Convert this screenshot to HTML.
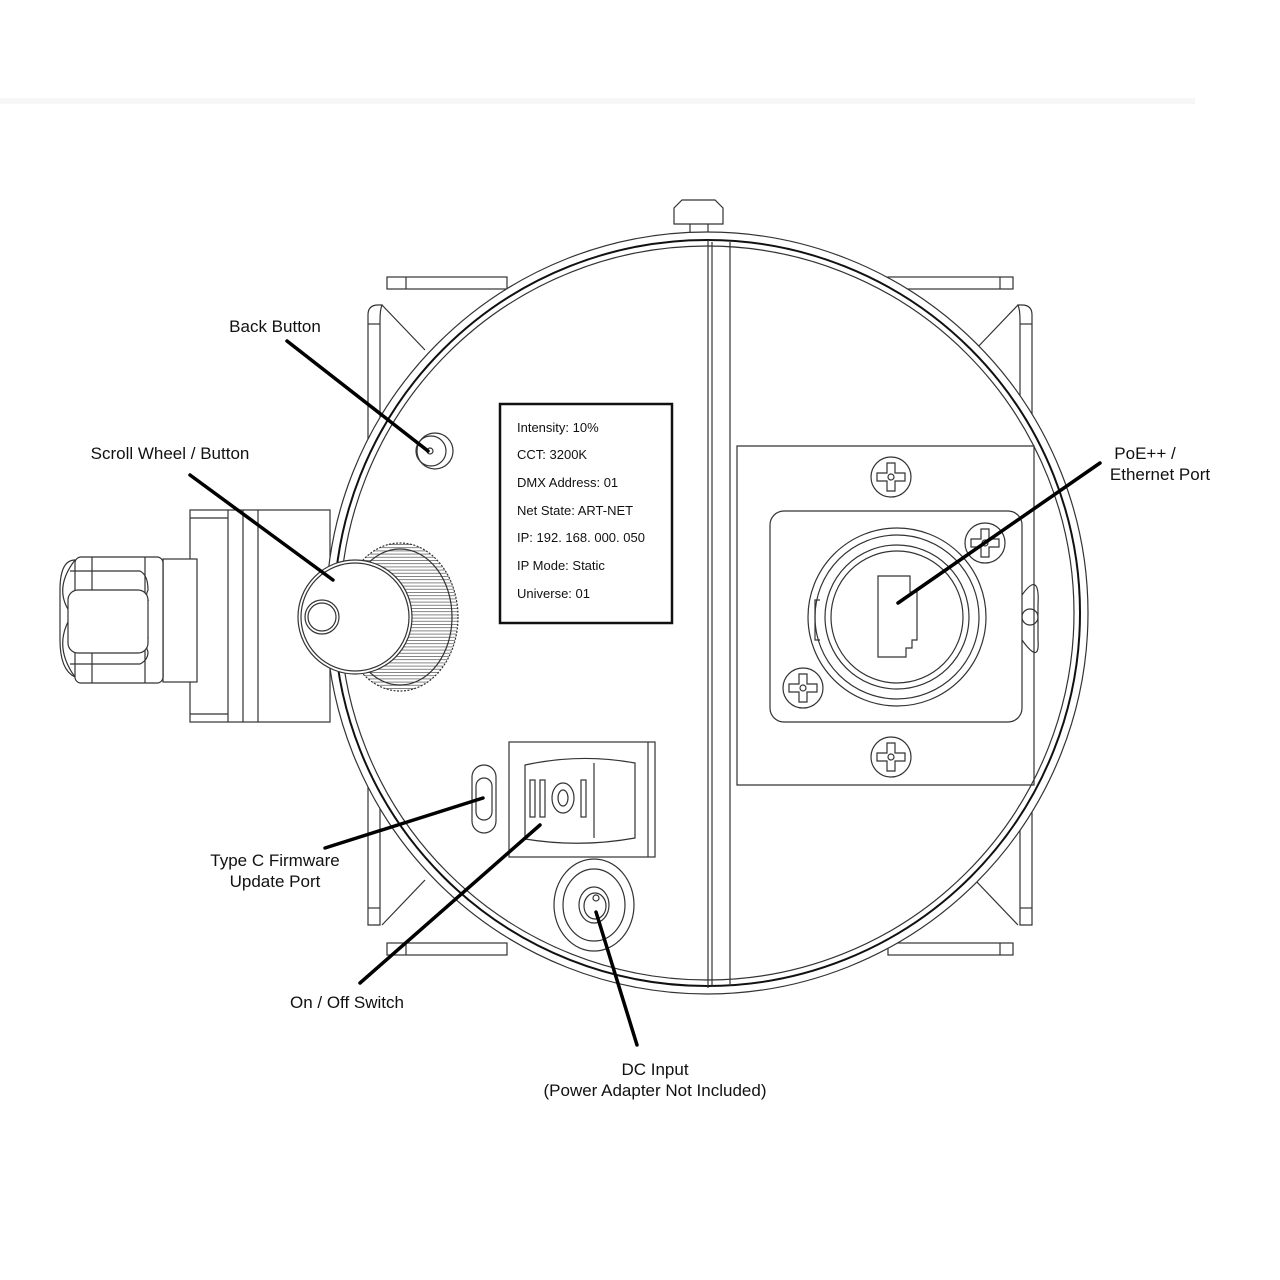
<!DOCTYPE html>
<html><head><meta charset="utf-8"><style>
html,body{margin:0;padding:0;background:#fff;}
svg{display:block}
text{font-family:"Liberation Sans",sans-serif;font-size:17px;fill:#111}
.d{font-family:"Liberation Sans Narrow","Liberation Sans",sans-serif;font-size:13px;fill:#111}
</style></head><body>
<svg width="1280" height="1280" viewBox="0 0 1280 1280" xmlns="http://www.w3.org/2000/svg">
<defs>
<g id="sc" fill="#fff" stroke="#333" stroke-width="1.2"><circle r="20"/><path d="M-4 -14 H4 V-4 H14 V4 H4 V14 H-4 V4 H-14 V-4 H-4 Z"/><circle r="3"/></g>
<pattern id="kn" width="6" height="3.2" patternUnits="userSpaceOnUse"><rect width="6" height="3.2" fill="#fff"/><line x1="0" y1="0.5" x2="6" y2="0.5" stroke="#666" stroke-width="0.8"/></pattern>
</defs>
<rect x="0" y="98" width="1195" height="6" fill="#f7f7f7"/>
<g fill="none" stroke="#333" stroke-width="1.2">
<!-- brackets -->
<rect x="387" y="277" width="120" height="12" fill="#fff"/><line x1="406" y1="277" x2="406" y2="289"/>
<rect x="888" y="277" width="125" height="12" fill="#fff"/><line x1="1000" y1="277" x2="1000" y2="289"/>
<rect x="387" y="943" width="120" height="12" fill="#fff"/><line x1="406" y1="943" x2="406" y2="955"/>
<rect x="888" y="943" width="125" height="12" fill="#fff"/><line x1="1000" y1="943" x2="1000" y2="955"/>
<path d="M368 925 V315 Q368 305 378 305 H382 Q380 310 380 320 V925 Z" fill="#fff"/>
<line x1="368" y1="324" x2="380" y2="324"/><line x1="368" y1="908" x2="380" y2="908"/>
<line x1="382" y1="305" x2="425" y2="350"/><line x1="382" y1="925" x2="425" y2="880"/>
<path d="M1032 925 V315 Q1032 305 1022 305 H1018 Q1020 310 1020 320 V925 Z" fill="#fff"/>
<line x1="1020" y1="324" x2="1032" y2="324"/><line x1="1020" y1="908" x2="1032" y2="908"/>
<line x1="1018" y1="305" x2="975" y2="350"/><line x1="1018" y1="925" x2="975" y2="880"/>
<!-- side connector -->
<rect x="190" y="510" width="140" height="212" fill="#fff"/>
<line x1="228" y1="510" x2="228" y2="722"/><line x1="243" y1="510" x2="243" y2="722"/><line x1="258" y1="510" x2="258" y2="722"/>
<line x1="190" y1="518" x2="228" y2="518"/><line x1="190" y1="714" x2="228" y2="714"/>
<rect x="163" y="559" width="34" height="123" fill="#fff"/>
<path d="M72 615 Q52 590 75 560 H163 V677 H75 Q52 645 72 615Z" fill="#fff"/>
<path d="M75 560 Q60 560 60 590 V640 Q60 670 75 677"/>
<rect x="75" y="557" width="88" height="126" rx="6" fill="#fff"/>
<line x1="92" y1="557" x2="92" y2="683"/><line x1="145" y1="557" x2="145" y2="683"/>
<path d="M70 571 H140 Q148 575 148 590 Q145 596 148 600 H70"/>
<path d="M70 638 H148 Q145 645 148 652 Q148 660 140 664 H70"/>
<rect x="68" y="590" width="80" height="63" rx="10" fill="#fff"/>
<!-- main circle -->
<circle cx="707" cy="613" r="381" fill="#fff"/>
<circle cx="707" cy="613" r="373" stroke="#111" stroke-width="2"/>
<circle cx="707" cy="613" r="367"/>
<line x1="708" y1="240" x2="708" y2="988"/><line x1="712" y1="242" x2="712" y2="986"/><line x1="730" y1="242" x2="730" y2="986"/>
<!-- cap -->
<path d="M674 224 V208 L682 200 H715 L723 208 V224 Z" fill="#fff"/>
<line x1="690" y1="224" x2="690" y2="232"/><line x1="708" y1="224" x2="708" y2="232"/>
<!-- port panel -->
<path d="M737 446 H1034 V785 H737 Z"/>
<rect x="770" y="511" width="252" height="211" rx="14"/>
<circle cx="897" cy="617" r="89"/><circle cx="897" cy="617" r="82"/><circle cx="897" cy="617" r="72"/><circle cx="897" cy="617" r="66"/>
<path d="M878 576 H910 V592 H917 V640 H912 V648 H906 V657 H878 Z"/>
<path d="M820 600 h-5 v40 h5"/>
<path d="M1022 595 Q1040 570 1038 605 V640 Q1040 665 1022 640"/><circle cx="1030" cy="617" r="8"/>
<!-- knob -->
<ellipse cx="400" cy="617" rx="58" ry="74" fill="url(#kn)" stroke-dasharray="2 1.5"/>
<ellipse cx="400" cy="617" rx="52" ry="68"/>
<circle cx="355" cy="617" r="57" fill="#fff"/><circle cx="355" cy="617" r="54"/>
<circle cx="322" cy="617" r="17"/><circle cx="322" cy="617" r="14"/>
<!-- back button -->
<circle cx="435" cy="451" r="18"/><circle cx="431" cy="451" r="15"/><circle cx="430" cy="451" r="3"/>
<!-- display -->
<rect x="500" y="404" width="172" height="219" stroke="#111" stroke-width="2.5"/>
<!-- type C -->
<rect x="472" y="765" width="24" height="68" rx="12"/><rect x="476" y="778" width="16" height="42" rx="8"/>
<!-- switch -->
<rect x="509" y="742" width="146" height="115"/><line x1="648" y1="742" x2="648" y2="857"/>
<path d="M525 765 Q580 753 635 763 V838 Q580 848 525 839 Z" fill="#fff"/>
<line x1="594" y1="763" x2="594" y2="838"/>
<rect x="530" y="780" width="5" height="37"/><rect x="540" y="780" width="5" height="37"/>
<ellipse cx="563" cy="798" rx="11" ry="15"/><ellipse cx="563" cy="798" rx="5" ry="8"/>
<rect x="581" y="780" width="5" height="37"/>
<!-- DC -->
<ellipse cx="594" cy="905" rx="40" ry="46"/><ellipse cx="594" cy="905" rx="31" ry="36"/><ellipse cx="594" cy="905" rx="15" ry="18"/><ellipse cx="595" cy="906" rx="11" ry="13"/>
<circle cx="596" cy="898" r="3"/>
</g>
<use href="#sc" x="891" y="477"/><use href="#sc" x="985" y="543"/><use href="#sc" x="803" y="688"/><use href="#sc" x="891" y="757"/>
<g class="d">
<text class="d" x="517" y="432">Intensity: 10%</text>
<text class="d" x="517" y="459">CCT: 3200K</text>
<text class="d" x="517" y="487">DMX Address: 01</text>
<text class="d" x="517" y="515">Net State: ART-NET</text>
<text class="d" x="517" y="542">IP: 192. 168. 000. 050</text>
<text class="d" x="517" y="570">IP Mode: Static</text>
<text class="d" x="517" y="598">Universe: 01</text>
</g>
<g stroke="#000" stroke-width="3.5" stroke-linecap="round">
<line x1="287" y1="341" x2="428" y2="451"/>
<line x1="190" y1="475" x2="333" y2="580"/>
<line x1="1100" y1="463" x2="898" y2="603"/>
<line x1="325" y1="848" x2="483" y2="798"/>
<line x1="360" y1="983" x2="540" y2="825"/>
<line x1="637" y1="1045" x2="596" y2="912"/>
</g>
<g text-anchor="middle">
<text x="275" y="332">Back Button</text>
<text x="170" y="459">Scroll Wheel / Button</text>
<text x="1145" y="459">PoE++ /</text>
<text x="1160" y="480">Ethernet Port</text>
<text x="275" y="866">Type C Firmware</text>
<text x="275" y="887">Update Port</text>
<text x="347" y="1008">On / Off Switch</text>
<text x="655" y="1075">DC Input</text>
<text x="655" y="1096">(Power Adapter Not Included)</text>
</g>
</svg>
</body></html>
